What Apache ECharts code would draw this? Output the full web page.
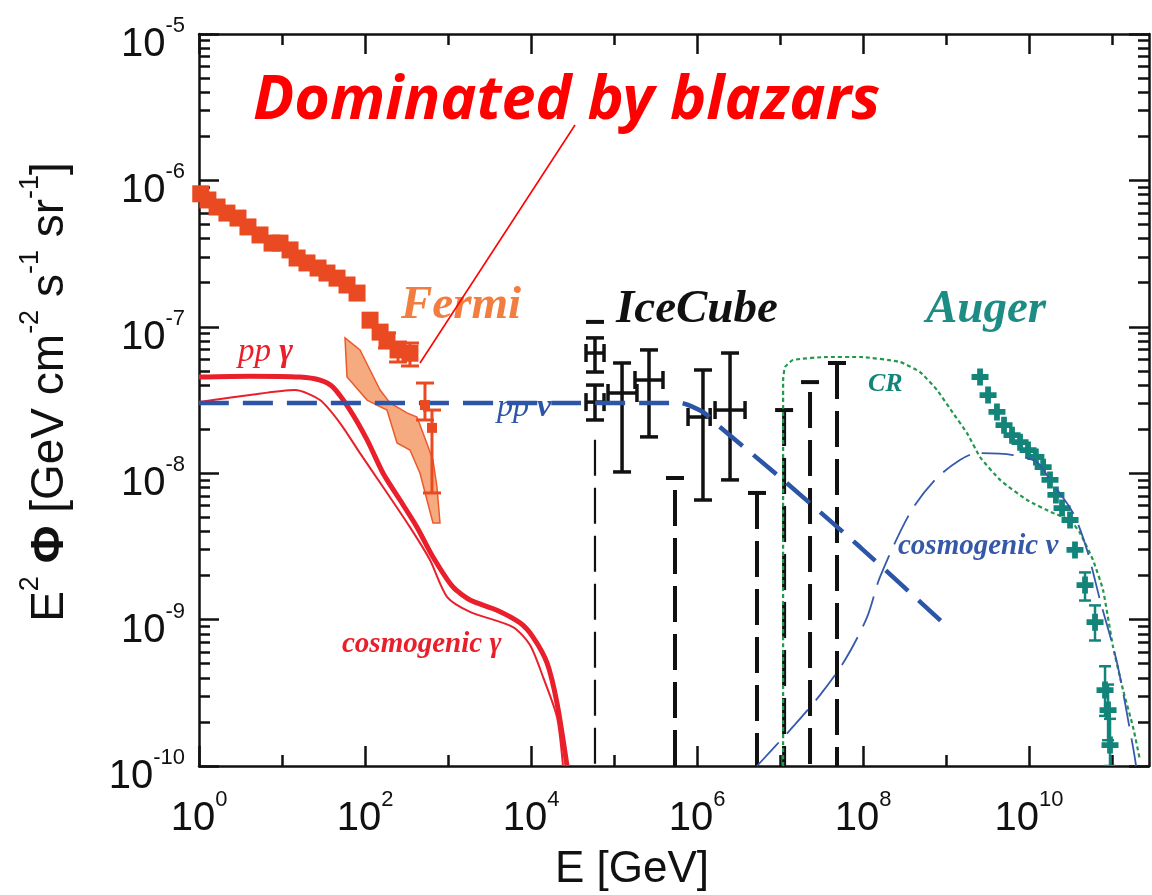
<!DOCTYPE html>
<html>
<head>
<meta charset="utf-8">
<script src="https://cdn.jsdelivr.net/npm/echarts@6/dist/echarts.min.js"></script>
<style>
  html, body { margin: 0; padding: 0; background: #fff; }
  #chart { width: 1152px; height: 895px; }
</style>
</head>
<body>
<div id="chart"></div>
<script>
// ---- axes ----
var X_MIN = 1, X_MAX = 2.79e11, Y_MIN = 1e-10, Y_MAX = 1e-5;
var xMajorTicks = [1, 1e2, 1e4, 1e6, 1e8, 1e10];
var xMinorTicks = [1e1, 1e3, 1e5, 1e7, 1e9, 1e11];
var yMajorTicks = [1e-10, 1e-9, 1e-8, 1e-7, 1e-6, 1e-5];
var yMinorTicks = [];
for (var d = -10; d < -5; d++) {
  for (var m = 2; m <= 9; m++) yMinorTicks.push(m * Math.pow(10, d));
}

// ---- Fermi (IGRB) ----
var fermiE = [1.05, 1.28, 1.65, 2.17, 2.95, 3.89, 5.43, 7.59, 9.46, 12.5, 15.2, 20, 27.2, 34.8, 46, 60.7, 80.2, 115, 152, 184, 250, 348];
var fermiF = [8.1e-7, 7.35e-7, 6.58e-7, 5.98e-7, 5.53e-7, 4.81e-7, 4.24e-7, 3.73e-7, 3.73e-7, 3.35e-7, 2.95e-7, 2.73e-7, 2.52e-7, 2.33e-7, 2.15e-7, 1.93e-7, 1.70e-7, 1.11e-7, 9.2e-8, 8.1e-8, 6.95e-8, 6.6e-8];
var fermiHiE = [528, 641];
var fermiHiF = [2.92e-8, 2.04e-8];
var fermiErrE = [184, 250, 348, 528, 641];
var fermiErrLo = [7.16e-8, 5.75e-8, 5.40e-8, 2.31e-8, 7.33e-9];
var fermiErrHi = [9.08e-8, 7.87e-8, 7.75e-8, 4.13e-8, 2.70e-8];
var bandUpE = [57.4, 87.1, 115, 152, 200, 321, 423, 500, 659, 736, 801];
var bandUpF = [8.4e-8, 6.95e-8, 5.07e-8, 3.70e-8, 3.02e-8, 2.58e-8, 2.42e-8, 1.88e-8, 1.23e-8, 8.05e-9, 4.57e-9];
var bandLoE = [57.4, 60.7, 106, 184, 243, 348, 460, 558, 659];
var bandLoF = [8.4e-8, 4.54e-8, 3.16e-8, 2.70e-8, 1.61e-8, 1.44e-8, 1.0e-8, 6.56e-9, 4.57e-9];

// ---- gamma models ----
var ppGamE = [1, 4.1, 16.5, 28.7, 41, 66, 106, 165, 264, 423, 659, 1148, 1841, 3890, 7360, 10570, 15600, 20560, 27160];
var ppGamF = [4.54e-8, 4.6e-8, 4.54e-8, 4.33e-8, 3.88e-8, 2.70e-8, 1.69e-8, 1.0e-8, 6.56e-9, 4.28e-9, 2.68e-9, 1.67e-9, 1.36e-9, 1.16e-9, 9.5e-10, 7.6e-10, 5.06e-10, 2.69e-10, 1e-10];
var cosGamE = [1, 4.1, 14.3, 28.7, 50, 87, 165, 348, 607, 973, 1841, 6070, 9730, 13960, 20560, 24300];
var cosGamF = [3.06e-8, 3.42e-8, 3.70e-8, 3.16e-8, 2.20e-8, 1.37e-8, 8.05e-9, 4.28e-9, 2.55e-9, 1.43e-9, 1.13e-9, 8.9e-10, 6.7e-10, 4.06e-10, 2.16e-10, 1e-10];

// ---- neutrino models ----
var ppNuE = [1, 6.24e5, 1.18e6, 1.89e6, 1.09e7, 9.2e7, 9.2e8];
var ppNuF = [3.02e-8, 3.02e-8, 2.62e-8, 2.07e-8, 9.0e-9, 3.13e-9, 9.5e-10];
var cosNuE = [5.28e6, 1.32e7, 3.03e7, 6.07e7, 1.12e8, 1.60e8, 3.68e8, 7.36e8, 1.47e9, 2.36e9, 6.4e9, 1.25e10, 1.79e10, 3.39e10, 5.0e10, 7.17e10, 1.15e11, 1.79e11, 1.95e11];
var cosNuF = [1e-10, 1.76e-10, 3.05e-10, 5.3e-10, 1.04e-9, 1.95e-9, 5.35e-9, 9.0e-9, 1.23e-8, 1.37e-8, 1.33e-8, 1.19e-8, 9.0e-9, 5.35e-9, 2.99e-9, 1.36e-9, 5.06e-10, 1.35e-10, 1e-10];

// ---- cosmic rays ----
var crE = [1.09e7, 1.09e7, 1.15e7, 1.43e7, 3.68e7, 9.2e7, 2.79e8, 4.86e8, 7.8e8, 1.21e9, 1.79e9, 2.57e9, 4.48e9, 9.46e9, 1.95e10, 3.12e10, 4.11e10, 5.9e10, 7.8e10, 1.03e11, 1.36e11, 1.79e11, 2.17e11];
var crF = [1e-10, 4.33e-8, 5.31e-8, 5.93e-8, 6.22e-8, 6.22e-8, 5.75e-8, 4.91e-8, 3.70e-8, 2.58e-8, 1.88e-8, 1.29e-8, 9.0e-9, 6.56e-9, 5.35e-9, 4.79e-9, 3.91e-9, 2.55e-9, 1.59e-9, 6.5e-10, 3.30e-10, 1.85e-10, 1.1e-10];
var augerE = [2.57e9, 3.21e9, 4.11e9, 5.0e9, 6.24e9, 7.8e9, 9.73e9, 1.21e10, 1.48e10, 1.79e10, 2.11e10, 2.50e10, 3.12e10, 3.58e10, 4.73e10, 6.24e10, 8.24e10, 8.96e10, 9.46e10];
var augerF = [4.54e-8, 3.42e-8, 2.62e-8, 2.13e-8, 1.82e-8, 1.63e-8, 1.44e-8, 1.29e-8, 1.10e-8, 9.0e-9, 7.1e-9, 5.78e-9, 4.79e-9, 2.99e-9, 1.72e-9, 9.6e-10, 3.30e-10, 2.41e-10, 1.39e-10];
var augerErrE = [4.73e10, 6.24e10, 8.24e10, 8.96e10, 9.46e10];
var augerErrLo = [1.35e-9, 7.2e-10, 2.2e-10, 1.5e-10, 1e-10];
var augerErrHi = [2.1e-9, 1.25e-9, 4.8e-10, 3.6e-10, 2.1e-10];

// ---- IceCube ----
var icePtE = [5.9e4, 5.9e4, 1.25e5, 2.64e5, 1.18e6, 2.5e6];
var icePtF = [6.62e-8, 3.06e-8, 3.53e-8, 4.33e-8, 2.42e-8, 2.70e-8];
var icePtLo = [4.91e-8, 2.31e-8, 1.02e-8, 1.77e-8, 6.56e-9, 9.0e-9];
var icePtHi = [8.4e-8, 4.0e-8, 5.66e-8, 6.95e-8, 5.07e-8, 6.62e-8];
var icePtElo = [4.6e4, 4.6e4, 8.47e4, 1.79e5, 7.8e5, 1.65e6];
var icePtEhi = [7.58e4, 7.58e4, 1.89e5, 3.89e5, 1.44e6, 3.79e6];
var iceLimE = [5.9e4, 5.43e5, 5.28e6, 1.12e7, 2.30e7, 4.86e7];
var iceLimCap = [1.08e-7, 9.27e-9, 7.33e-9, 2.70e-8, 4.19e-8, 5.66e-8];
var iceLimFrom = [1.69e-8, 7.67e-9, 7.33e-9, 2.70e-8, 3.59e-8, 5.66e-8];
var iceLimThick = [0, 1, 1, 1, 1, 1];

// annotation pointer (data coordinates)
var arrowE = [3.39e4, 460];
var arrowF = [2.39e-6, 5.66e-8];

function pairs(xs, ys) { return xs.map(function (x, i) { return [x, ys[i]]; }); }

var RED = '#e9202b', ORANGE = '#ea4a22', BLUE = '#2c55a7', GREEN = '#22994c', TEAL = '#138479';
var AX = '#111';

function tickLabel(v) {
  var e = Math.round(Math.log10(v));
  return '{b|10}{s|' + e + '}';
}
var labelRich = {
  b: { fontSize: 40, fontFamily: 'Liberation Sans', color: AX, lineHeight: 50, verticalAlign: 'bottom' },
  s: { fontSize: 22, fontFamily: 'Liberation Sans', color: AX, verticalAlign: 'top' }
};

function makeX(pos, ticks, len, withLabel, withLine) {
  return {
    type: 'log', logBase: 10, min: X_MIN, max: X_MAX, position: pos,
    axisLine: { show: withLine, onZero: false, lineStyle: { color: AX, width: 2.5 } },
    axisTick: { show: true, inside: true, length: len, customValues: ticks, lineStyle: { color: AX, width: 2.5 } },
    axisLabel: { show: withLabel, customValues: ticks, margin: 23, formatter: tickLabel, rich: labelRich },
    splitLine: { show: false }
  };
}
function makeY(pos, ticks, len, withLabel, withLine) {
  return {
    type: 'log', logBase: 10, min: Y_MIN, max: Y_MAX, position: pos,
    axisLine: { show: withLine, onZero: false, lineStyle: { color: AX, width: 2.5 } },
    axisTick: { show: true, inside: true, length: len, customValues: ticks, lineStyle: { color: AX, width: 2.5 } },
    axisLabel: { show: withLabel, customValues: ticks, margin: 14, formatter: tickLabel, rich: labelRich, padding: [12, 0, 0, 0] },
    splitLine: { show: false }
  };
}

function seg(x1, y1, x2, y2, style) {
  return { type: 'line', shape: { x1: x1, y1: y1, x2: x2, y2: y2 }, style: style };
}

// error bar with caps: [E, lo, hi]
function errRender(color, width, cap) {
  return function (params, api) {
    var hi = api.coord([api.value(0), api.value(2)]);
    var lo = api.coord([api.value(0), api.value(1)]);
    var st = { stroke: color, lineWidth: width };
    return { type: 'group', children: [
      seg(hi[0], hi[1], lo[0], lo[1], st),
      seg(hi[0] - cap, hi[1], hi[0] + cap, hi[1], st),
      seg(lo[0] - cap, lo[1], lo[0] + cap, lo[1], st)
    ] };
  };
}

// IceCube cross: [E, F, lo, hi, Elo, Ehi]
function crossRender(params, api) {
  var c = api.coord([api.value(0), api.value(1)]);
  var lo = api.coord([api.value(0), api.value(2)]);
  var hi = api.coord([api.value(0), api.value(3)]);
  var l = api.coord([api.value(4), api.value(1)]);
  var r = api.coord([api.value(5), api.value(1)]);
  var st = { stroke: '#111', lineWidth: 3.5 };
  var cap = 9;
  return { type: 'group', children: [
    seg(c[0], hi[1], c[0], lo[1], st),
    seg(c[0] - cap, hi[1], c[0] + cap, hi[1], st),
    seg(c[0] - cap, lo[1], c[0] + cap, lo[1], st),
    seg(l[0], c[1], r[0], c[1], st),
    seg(l[0], c[1] - cap, l[0], c[1] + cap, st),
    seg(r[0], c[1] - cap, r[0], c[1] + cap, st)
  ] };
}

// IceCube upper bound with dashed range down to the axis: [E, cap, from, thick]
function limitRender(params, api) {
  var capP = api.coord([api.value(0), api.value(1)]);
  var fromP = api.coord([api.value(0), api.value(2)]);
  var base = api.coord([api.value(0), Y_MIN]);
  var w = api.value(3) ? 4 : 2.2;
  return { type: 'group', children: [
    seg(capP[0] - 9, capP[1], capP[0] + 9, capP[1], { stroke: '#111', lineWidth: 4 }),
    seg(fromP[0], fromP[1], fromP[0], base[1], { stroke: '#111', lineWidth: w, lineDash: [36, 12] })
  ] };
}

// Fermi band polygon
var bandPts = pairs(bandUpE, bandUpF).concat(pairs(bandLoE, bandLoF).reverse());
function bandRender(params, api) {
  var pts = bandPts.map(function (p) { return api.coord(p); });
  return { type: 'polygon', shape: { points: pts }, style: { fill: '#f6aa80', stroke: '#ec5a2c', lineWidth: 1.5 } };
}

var serif = 'Liberation Serif';
var chart = echarts.init(document.getElementById('chart'));
chart.setOption({
  animation: false,
  backgroundColor: '#fff',
  grid: { left: 199, top: 34, right: 3, bottom: 129, containLabel: false, outerBoundsMode: 'none' },
  xAxis: [
    makeX('bottom', xMajorTicks, 20, true, true),
    makeX('bottom', xMinorTicks, 11, false, false),
    makeX('top', xMajorTicks, 20, false, true),
    makeX('top', xMinorTicks, 11, false, false)
  ],
  yAxis: [
    makeY('left', yMajorTicks, 20, true, true),
    makeY('left', yMinorTicks, 11, false, false),
    makeY('right', yMajorTicks, 20, false, true),
    makeY('right', yMinorTicks, 11, false, false)
  ],
  series: [
    { name: 'Fermi band', type: 'custom', renderItem: bandRender, clip: true,
      data: [[bandUpE[0], bandUpF[0]]], encode: { x: 0, y: 1 }, z: 2 },
    { name: 'pp gamma', type: 'line', data: pairs(ppGamE, ppGamF), showSymbol: false, smooth: 0.25,
      lineStyle: { color: RED, width: 5 }, z: 3 },
    { name: 'cosmogenic gamma', type: 'line', data: pairs(cosGamE, cosGamF), showSymbol: false, smooth: 0.25,
      lineStyle: { color: RED, width: 2 }, z: 3 },
    { name: 'IceCube limits', type: 'custom', renderItem: limitRender, clip: true,
      data: iceLimE.map(function (e, i) { return [e, iceLimCap[i], iceLimFrom[i], iceLimThick[i]]; }),
      encode: { x: 0, y: 1 }, z: 4 },
    { name: 'IceCube', type: 'custom', renderItem: crossRender, clip: true,
      data: icePtE.map(function (e, i) { return [e, icePtF[i], icePtLo[i], icePtHi[i], icePtElo[i], icePtEhi[i]]; }),
      encode: { x: 0, y: 1 }, z: 4 },
    { name: 'CR', type: 'line', data: pairs(crE, crF), showSymbol: false, smooth: 0.15,
      lineStyle: { color: GREEN, width: 2.2, type: [4, 3] }, z: 5 },
    { name: 'Auger errors', type: 'custom', renderItem: errRender(TEAL, 2.5, 6), clip: true,
      data: augerErrE.map(function (e, i) { return [e, augerErrLo[i], augerErrHi[i]]; }),
      encode: { x: 0, y: [1, 2] }, z: 6 },
    { name: 'Auger', type: 'scatter', data: pairs(augerE, augerF),
      symbol: 'path://M3.3,0H6.7V3.3H10V6.7H6.7V10H3.3V6.7H0V3.3H3.3Z', symbolSize: 17,
      itemStyle: { color: TEAL, opacity: 1 }, z: 6 },
    { name: 'cosmogenic nu', type: 'line', data: pairs(cosNuE, cosNuF), showSymbol: false, smooth: 0.3,
      lineStyle: { color: '#3559ab', width: 1.8, type: [32, 12] }, z: 7 },
    { name: 'pp nu', type: 'line', data: pairs(ppNuE, ppNuF), showSymbol: false, smooth: 0.2,
      lineStyle: { color: BLUE, width: 4.5, type: [30, 14] }, z: 7 },
    { name: 'Fermi', type: 'scatter', data: pairs(fermiE, fermiF), symbol: 'rect', symbolSize: 17,
      itemStyle: { color: ORANGE, opacity: 1 }, z: 8 },
    { name: 'Fermi high', type: 'scatter', data: pairs(fermiHiE, fermiHiF), symbol: 'rect', symbolSize: 10,
      itemStyle: { color: ORANGE, opacity: 1 }, z: 8 },
    { name: 'Fermi errors', type: 'custom', renderItem: errRender(ORANGE, 3, 9), clip: true,
      data: fermiErrE.map(function (e, i) { return [e, fermiErrLo[i], fermiErrHi[i]]; }),
      encode: { x: 0, y: [1, 2] }, z: 8 },
    { name: 'pointer', type: 'line', data: pairs(arrowE, arrowF), showSymbol: false,
      lineStyle: { color: '#ff0000', width: 1.6 }, z: 9 }
  ],
  graphic: [
    { type: 'text', x: 253, y: 102, z: 100, style: { text: 'Dominated by blazars', fill: '#ff0000',
      fontFamily: 'Noto Sans', fontWeight: 'bold', fontStyle: 'italic', fontSize: 61, align: 'left', verticalAlign: 'middle' } },
    { type: 'text', x: 401, y: 306, style: { text: 'Fermi', fill: '#f27d40', fontFamily: serif,
      fontWeight: 'bold', fontStyle: 'italic', fontSize: 47, align: 'left', verticalAlign: 'middle' } },
    { type: 'text', x: 616, y: 310, style: { text: 'IceCube', fill: '#111', fontFamily: serif,
      fontWeight: 'bold', fontStyle: 'italic', fontSize: 47, align: 'left', verticalAlign: 'middle' } },
    { type: 'text', x: 926, y: 310, style: { text: 'Auger', fill: '#1c8c84', fontFamily: serif,
      fontWeight: 'bold', fontStyle: 'italic', fontSize: 47, align: 'left', verticalAlign: 'middle' } },
    { type: 'text', x: 238, y: 352, style: { text: '{a|pp }{g|γ}', fill: RED, align: 'left', verticalAlign: 'middle',
      rich: { a: { fontFamily: serif, fontStyle: 'italic', fontSize: 33, fill: RED },
              g: { fontFamily: serif, fontStyle: 'italic', fontWeight: 'bold', fontSize: 33, fill: RED } } } },
    { type: 'text', x: 497, y: 408, style: { text: '{a|pp }{g|ν}', fill: BLUE, align: 'left', verticalAlign: 'middle',
      rich: { a: { fontFamily: serif, fontStyle: 'italic', fontSize: 32, fill: BLUE },
              g: { fontFamily: serif, fontStyle: 'italic', fontWeight: 'bold', fontSize: 32, fill: BLUE } } } },
    { type: 'text', x: 868, y: 384, style: { text: 'CR', fill: TEAL, fontFamily: serif,
      fontWeight: 'bold', fontStyle: 'italic', fontSize: 26, align: 'left', verticalAlign: 'middle' } },
    { type: 'text', x: 898, y: 547, style: { text: 'cosmogenic ν', fill: '#3558a8', fontFamily: serif,
      fontWeight: 'bold', fontStyle: 'italic', fontSize: 29, align: 'left', verticalAlign: 'middle' } },
    { type: 'text', x: 342, y: 645, style: { text: 'cosmogenic γ', fill: RED, fontFamily: serif,
      fontWeight: 'bold', fontStyle: 'italic', fontSize: 29, align: 'left', verticalAlign: 'middle' } },
    { type: 'text', x: 632, y: 870, style: { text: 'E [GeV]', fill: AX, fontFamily: 'Liberation Sans',
      fontSize: 44, align: 'center', verticalAlign: 'middle' } },
    { type: 'text', x: 45, y: 392, rotation: Math.PI / 2, style: {
      text: '{n|E}{s|2}{n| }{f|Φ}{n| [GeV cm}{s|-2}{n| s}{s|-1}{n| sr}{s|-1}{n|]}',
      align: 'center', verticalAlign: 'middle', fill: AX,
      rich: { n: { fontFamily: 'Liberation Sans', fontSize: 46, fill: AX, lineHeight: 56, verticalAlign: 'bottom' },
              f: { fontFamily: 'Liberation Sans', fontWeight: 'bold', fontSize: 46, fill: AX, lineHeight: 56, verticalAlign: 'bottom' },
              s: { fontFamily: 'Liberation Sans', fontSize: 27, fill: AX, verticalAlign: 'top' } } } }
  ]
});
</script>
</body>
</html>
